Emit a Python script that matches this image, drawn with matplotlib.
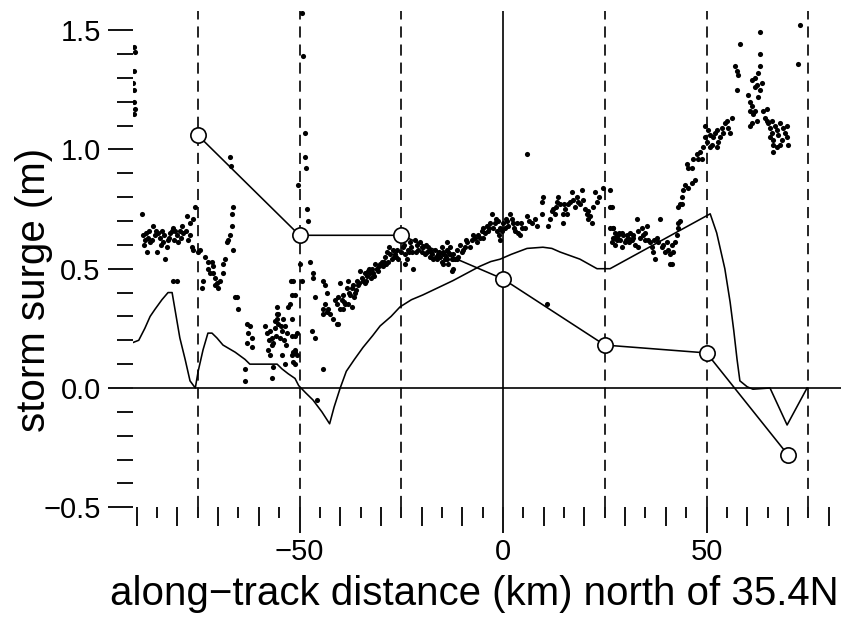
import numpy as np
import matplotlib
matplotlib.use("Agg")
import matplotlib.pyplot as plt

plt.rcParams['font.family'] = ['Liberation Sans', 'DejaVu Sans']
plt.rcParams['lines.scale_dashes'] = False

# ---------------- data ----------------
# station (circle) values
station_km = [-75, -50, -25, 0, 25, 50, 70]
station_m = [1.06, 0.64, 0.64, 0.457, 0.18, 0.147, -0.28]

# model curve
model_km = [-91.0, -89.5, -88.0, -86.7, -85.5, -83.8, -82.3, -81.3, -80.6, -79.4,
            -78.1, -76.9, -75.6, -74.9, -73.7, -72.5, -71.5, -70.3, -68.8, -65.8,
            -63.4, -62.2, -60.2, -57.7, -55.5, -54.3, -52.8, -51.1, -50.2, -48.5,
            -46.7, -44.5, -42.6, -41.5, -40.0, -38.5, -36.5, -34.4, -32.0, -30.2,
            -27.5, -25.3, -22.5, -19.7, -16.0, -12.3, -9.0, -5.7, -3.0, -0.7,
            2.0, 5.9, 9.8, 12.0, 14.0, 18.9, 23.1, 26.3, 50.9, 52.5,
            54.5, 55.8, 56.7, 57.5, 58.2, 60.0, 61.4, 65.6, 69.8, 74.7]
model_m = [0.19, 0.20, 0.25, 0.30, 0.33, 0.37, 0.40, 0.40, 0.33, 0.21,
           0.12, 0.03, 0.0, 0.07, 0.16, 0.23, 0.23, 0.21, 0.18, 0.15,
           0.12, 0.10, 0.10, 0.10, 0.10, 0.08, 0.06, 0.04, 0.01, -0.02,
           -0.05, -0.10, -0.15, -0.08, 0.0, 0.07, 0.12, 0.17, 0.22, 0.26,
           0.30, 0.34, 0.37, 0.39, 0.42, 0.45, 0.48, 0.51, 0.53, 0.54,
           0.56, 0.585, 0.59, 0.585, 0.57, 0.54, 0.50, 0.50, 0.73, 0.65,
           0.50, 0.36, 0.24, 0.12, 0.03, 0.005, -0.005, 0.0, -0.155, 0.0]

# altimeter observations, by stretch of track
obs1_km = [-90.6, -90.4, -90.6, -90.8, -90.6, -90.6, -90.4, -90.6]
obs1_m = [1.43, 1.41, 1.33, 1.28, 1.25, 1.20, 1.17, 1.15]

obs2_km = [-88.7, -88.5, -88.0, -87.5, -87.2, -86.7, -86.0, -85.5, -85.0, -84.8,
           -84.3, -83.8, -83.5, -83.0, -82.6, -82.3, -81.8, -81.3, -81.1, -80.6,
           -80.1, -79.9, -79.4, -78.9, -78.6, -77.6, -77.4, -76.9, -80.1, -76.2,
           -75.7, -76.4, -76.2, -87.8, -86.3, -85.2, -84.0, -82.0, -80.8, -79.0,
           -78.0, -77.0, -88.3, -86.9, -83.2, -81.1]
obs2_m = [0.73, 0.64, 0.62, 0.57, 0.63, 0.61, 0.68, 0.64, 0.57, 0.65,
          0.63, 0.66, 0.61, 0.54, 0.59, 0.62, 0.65, 0.66, 0.67, 0.66,
          0.64, 0.61, 0.66, 0.68, 0.65, 0.72, 0.62, 0.69, 0.45, 0.71,
          0.76, 0.59, 0.58, 0.65, 0.62, 0.66, 0.60, 0.63, 0.62, 0.63,
          0.66, 0.64, 0.60, 0.66, 0.64, 0.45]

obs3_km = [-75.0, -74.4, -73.2, -72.5, -71.5, -71.3, -72.5, -72.0, -71.3, -70.8,
           -70.3, -69.5, -70.0, -70.8, -73.7, -74.0, -68.8, -68.8, -68.3, -67.8,
           -67.6, -67.1, -66.6, -66.3, -66.6, -66.3, -65.8, -65.4, -65.1, -67.1,
           -66.8]
obs3_m = [0.57, 0.58, 0.55, 0.53, 0.53, 0.51, 0.50, 0.48, 0.48, 0.46,
          0.44, 0.45, 0.42, 0.43, 0.45, 0.42, 0.48, 0.52, 0.54, 0.61,
          0.62, 0.64, 0.68, 0.58, 0.73, 0.76, 0.38, 0.38, 0.33, 0.97,
          0.93]

obs4_km = [-62.9, -62.2, -62.7, -61.7, -62.9, -61.7, -63.4, -63.4, -58.5, -58.0,
           -57.2, -56.8, -56.5, -56.0, -55.5, -55.3, -54.8, -54.3, -54.1, -53.6,
           -53.1, -52.8, -55.5, -55.3, -56.8, -57.2, -57.7, -54.3, -53.6, -56.5,
           -56.8, -51.8, -51.6, -51.1, -51.8, -50.6, -51.8, -52.1, -52.3, -51.8,
           -51.1, -50.6, -56.0, -55.5, -57.5, -55.8, -54.6, -53.9, -53.3]
obs4_m = [0.27, 0.26, 0.23, 0.21, 0.19, 0.17, 0.08, 0.03, 0.26, 0.23,
          0.24, 0.21, 0.19, 0.25, 0.29, 0.27, 0.21, 0.24, 0.29, 0.26,
          0.23, 0.34, 0.34, 0.31, 0.18, 0.14, 0.16, 0.14, 0.10, 0.09,
          0.04, 0.14, 0.11, 0.16, 0.22, 0.23, 0.39, 0.45, 0.35, 0.29,
          0.15, 0.14, 0.28, 0.31, 0.20, 0.22, 0.26, 0.20, 0.18]

obs5_km = [-49.4, -49.1, -48.6, -48.6, -48.4, -50.4, -48.2, -47.9, -47.4, -49.9,
           -46.7, -46.7, -51.6, -49.4, -46.2, -44.2, -43.7, -43.2, -51.1, -46.9,
           -46.2, -51.1, -51.6, -51.1, -44.2, -45.7]
obs5_m = [1.57, 1.39, 1.07, 0.97, 0.92, 0.85, 0.75, 0.70, 0.53, 0.52,
          0.48, 0.46, 0.45, 0.45, 0.38, 0.45, 0.43, 0.40, 0.39, 0.24,
          0.21, 0.22, 0.15, 0.10, 0.08, -0.05]

obs6_km = [-43.7, -43.2, -43.0, -44.2, -42.5, -41.8, -40.8, -40.5, -41.3, -40.5,
           -40.0, -39.6, -39.3, -38.8, -38.3, -38.1, -37.6, -37.1, -36.9, -36.4,
           -35.9, -35.6, -35.1, -34.6, -34.4, -33.9, -33.4, -33.2, -32.7, -32.2,
           -31.9, -31.4, -30.9, -30.7, -30.2, -29.7, -29.5, -29.0, -28.5, -28.3,
           -27.8, -27.3, -27.0, -26.5, -26.0, -25.8, -24.6, -24.1, -24.1, -23.6,
           -23.3, -22.8, -22.4, -22.1, -21.6, -21.1, -20.9, -20.4, -19.9, -19.7,
           -19.2, -18.7, -18.4, -17.9, -17.4, -17.2, -16.7, -16.2, -16.0, -15.5,
           -15.0, -14.7, -14.3, -13.8, -13.5, -13.0, -12.5, -12.3, -11.3, -11.1,
           -40.8, -40.0, -39.3, -38.1, -37.1, -44.2, -36.0, -34.0, -32.5, -31.0,
           -28.8, -26.8, -23.0, -20.0, -18.0, -15.8, -39.0, -37.9, -36.7, -35.3,
           -33.7, -32.9, -31.6, -30.4, -29.2, -28.0, -26.2, -25.1, -24.4, -22.6,
           -21.3, -19.0, -17.6, -16.5, -14.0]
obs6_m = [0.35, 0.32, 0.33, 0.31, 0.31, 0.29, 0.27, 0.27, 0.37, 0.38,
          0.44, 0.37, 0.39, 0.35, 0.42, 0.45, 0.39, 0.42, 0.43, 0.40,
          0.45, 0.43, 0.49, 0.46, 0.45, 0.48, 0.47, 0.49, 0.48, 0.50,
          0.48, 0.52, 0.50, 0.49, 0.52, 0.53, 0.51, 0.55, 0.57, 0.53,
          0.56, 0.54, 0.58, 0.56, 0.58, 0.54, 0.59, 0.56, 0.52, 0.54,
          0.58, 0.61, 0.57, 0.50, 0.62, 0.60, 0.58, 0.61, 0.59, 0.59,
          0.56, 0.57, 0.59, 0.55, 0.56, 0.54, 0.58, 0.54, 0.56, 0.55,
          0.53, 0.56, 0.54, 0.58, 0.52, 0.56, 0.49, 0.54, 0.58, 0.55,
          0.35, 0.33, 0.33, 0.35, 0.34, 0.33, 0.41, 0.44, 0.46, 0.50,
          0.52, 0.55, 0.57, 0.57, 0.58, 0.57, 0.36, 0.40, 0.38, 0.44,
          0.45, 0.50, 0.47, 0.51, 0.53, 0.59, 0.55, 0.57, 0.60, 0.59,
          0.57, 0.60, 0.57, 0.55, 0.55]

obs7_km = [-13.8, -13.0, -14.7, -13.8, -12.3, -11.8, -10.6, -10.1, -9.3, -8.8,
           -8.1, -7.6, -7.4, -6.4, -6.1, -5.7, -5.2, -4.4, -3.9, -3.7,
           -3.2, -2.7, -2.5, -2.0, -1.5, -1.2, -0.7, -0.2, 0.0, -0.7,
           0.5, 1.2, 1.7, 2.2, 2.5, 3.4, 3.7, 4.2, 4.7, 5.4,
           5.9, 7.9, 8.4, 9.6, 9.6, 9.8, 11.1, 11.5, 12.0, 12.3,
           12.8, 13.3, 13.5, 14.0, 14.7, 14.7, 15.2, 15.7, 16.0, 16.5,
           17.0, 17.2, 17.7, 18.2, 18.4, 19.4, 19.7, 20.1, 20.6, 20.9,
           21.4, 21.9, 22.1, 22.6, 23.1, 24.6, 26.3, 26.3, 26.3, 27.0,
           27.5, 28.0, 5.9, 10.8, -15.0, -13.5, -12.5, -11.3, -12.3, -14.7,
           -9.8, -4.8, -1.0, 1.0, 3.0, 6.5, 7.2, -9.0, -6.9, -5.0,
           -3.4, -1.8, 0.8, 2.8, 4.4, 13.0, 15.0, 18.8, 21.0, 23.6]
obs7_m = [0.61, 0.59, 0.57, 0.54, 0.56, 0.54, 0.60, 0.57, 0.59, 0.61,
          0.59, 0.62, 0.64, 0.61, 0.64, 0.63, 0.66, 0.65, 0.68, 0.66,
          0.69, 0.73, 0.67, 0.69, 0.66, 0.70, 0.67, 0.66, 0.69, 0.62,
          0.67, 0.68, 0.73, 0.71, 0.69, 0.69, 0.65, 0.64, 0.67, 0.67,
          0.72, 0.71, 0.68, 0.73, 0.78, 0.80, 0.68, 0.71, 0.74, 0.75,
          0.73, 0.78, 0.80, 0.77, 0.69, 0.73, 0.75, 0.73, 0.77, 0.78,
          0.82, 0.79, 0.76, 0.80, 0.78, 0.83, 0.79, 0.75, 0.73, 0.71,
          0.72, 0.69, 0.76, 0.82, 0.78, 0.84, 0.83, 0.76, 0.67, 0.67,
          0.63, 0.62, 0.98, 0.35, 0.59, 0.57, 0.54, 0.54, 0.50, 0.52,
          0.58, 0.63, 0.64, 0.70, 0.66, 0.70, 0.69, 0.62, 0.63, 0.67,
          0.67, 0.71, 0.71, 0.67, 0.69, 0.76, 0.77, 0.77, 0.74, 0.80]

obs8_km = [26.8, 27.0, 27.5, 28.0, 28.3, 28.7, 29.2, 29.5, 30.0, 30.5,
           30.7, 31.2, 31.7, 31.9, 32.4, 32.9, 33.2, 33.7, 34.2, 34.4,
           35.4, 35.6, 36.1, 36.6, 36.9, 37.3, 37.8, 38.1, 38.6, 39.1,
           39.3, 40.3, 40.5, 41.0, 41.5, 41.8, 42.3, 41.0, 42.8, 43.0,
           43.5, 44.0, 27.0, 26.8, 27.5, 29.2, 33.2, 41.5, 28.5, 30.2,
           31.0, 32.0, 34.8, 35.0, 37.0, 39.8]
obs8_m = [0.76, 0.67, 0.65, 0.63, 0.64, 0.62, 0.65, 0.64, 0.61, 0.64,
          0.63, 0.65, 0.62, 0.64, 0.60, 0.71, 0.66, 0.63, 0.67, 0.64,
          0.68, 0.62, 0.61, 0.59, 0.57, 0.54, 0.63, 0.61, 0.71, 0.59,
          0.60, 0.61, 0.58, 0.56, 0.60, 0.57, 0.61, 0.52, 0.64, 0.67,
          0.70, 0.77, 0.63, 0.61, 0.60, 0.59, 0.59, 0.52, 0.65, 0.62,
          0.61, 0.63, 0.62, 0.65, 0.62, 0.57]

obs9_km = [43.5, 44.0, 44.2, 44.7, 45.5, 46.4, 47.2, 45.2, 45.5, 46.4,
           46.7, 47.7, 47.9, 48.4, 48.9, 49.1, 49.6, 50.1, 50.4, 50.9,
           51.4, 51.6, 52.1, 52.6, 52.8, 53.3, 53.8, 54.1, 54.5, 55.0,
           55.3, 55.8, 56.3, 50.9, 52.6, 49.6, 43.0, 43.0]
obs9_m = [0.77, 0.80, 0.83, 0.85, 0.84, 0.86, 0.87, 0.94, 0.92, 0.92,
          0.96, 0.98, 0.96, 0.99, 0.96, 1.01, 1.05, 1.03, 1.08, 1.06,
          1.02, 1.05, 1.07, 1.08, 1.03, 1.05, 1.09, 1.07, 1.11, 1.12,
          1.09, 1.07, 1.13, 1.01, 1.01, 1.10, 0.76, 0.69]

obs10_km = [57.0, 57.5, 57.7, 57.5, 58.2, 60.2, 60.7, 61.2, 60.7, 61.4,
            61.2, 61.9, 62.4, 62.7, 63.1, 61.9, 62.4, 61.9, 62.7, 63.1,
            63.1, 63.1, 63.6, 61.2, 60.7, 63.9, 64.4, 64.9, 64.9, 65.1,
            65.6, 66.1, 66.1, 66.3, 66.3, 66.8, 67.3, 67.3, 66.3, 67.6,
            68.1, 68.6, 68.8, 69.3, 69.8, 69.8, 70.0, 68.1, 65.6, 73.0,
            72.5]
obs10_m = [1.35, 1.33, 1.31, 1.25, 1.44, 1.23, 1.20, 1.18, 1.16, 1.15,
           1.11, 1.16, 1.12, 1.22, 1.25, 1.26, 1.27, 1.30, 1.32, 1.35,
           1.40, 1.49, 1.28, 1.29, 1.10, 1.16, 1.13, 1.17, 1.12, 1.11,
           1.09, 1.12, 1.07, 1.04, 1.02, 1.10, 1.08, 1.01, 0.99, 1.06,
           1.11, 1.04, 1.09, 1.07, 1.10, 1.05, 1.02, 1.02, 1.05, 1.52,
           1.36]

obs_km = obs1_km + obs2_km + obs3_km + obs4_km + obs5_km + obs6_km + obs7_km + obs8_km + obs9_km + obs10_km
obs_m = obs1_m + obs2_m + obs3_m + obs4_m + obs5_m + obs6_m + obs7_m + obs8_m + obs9_m + obs10_m

dashed_km = [-75, -50, -25, 25, 50, 75]
xtick_major = [-50, 0, 50]
xtick_major_labels = ['\u221250', '0', '50']
xtick_mid = [-90, -80, -70, -60, -40, -30, -20, -10, 10, 20, 30, 40, 60, 70, 80]
xtick_short = [-85, -75, -65, -55, -45, -35, -25, -15, -5, 5, 15, 25, 35, 45, 55, 65, 75]
ytick_major = [-0.5, 0.0, 0.5, 1.0, 1.5]
ytick_major_labels = ['\u22120.5', '0.0', '0.5', '1.0', '1.5']
ytick_minor = [-0.4, -0.3, -0.2, -0.1, 0.1, 0.2, 0.3, 0.4, 0.6, 0.7, 0.8, 0.9,
               1.1, 1.2, 1.3, 1.4]

# ---------------- figure ----------------
fig = plt.figure(figsize=(8.41, 6.22), dpi=100)
ax = fig.add_axes([0.1577, 0.1844, 0.8421, 0.7979])
ax.set_xlim(-91, 83)
ax.set_ylim(-0.5, 1.58)
for s in ax.spines.values():
    s.set_visible(False)

ax.axhline(0, color='black', lw=1.2, zorder=2)
ax.axvline(0, color='black', lw=1.2, zorder=2)
for xk in dashed_km:
    ax.axvline(xk, color='black', lw=1.2, dashes=(8, 5), zorder=2)

ax.plot(model_km, model_m, color='black', lw=1.15, zorder=3)
ax.plot(obs_km, obs_m, 'o', color='black', ms=3.7, mec='none', zorder=4)
ax.plot(station_km, station_m, '-', color='black', lw=1.15, zorder=5)
ax.plot(station_km, station_m, 'o', mfc='white', mec='black', mew=1.2, ms=11,
        zorder=6, linestyle='none')

ax.set_xticks(xtick_major)
ax.set_xticklabels(xtick_major_labels)
ax.set_xticks(xtick_mid, minor=True)
ax.set_yticks(ytick_major)
ax.set_yticklabels(ytick_major_labels)
ax.set_yticks(ytick_minor, minor=True)
ax.tick_params(axis='x', which='major', direction='out', length=19, width=1.3,
               labelsize=21, pad=3)
ax.tick_params(axis='x', which='minor', direction='out', length=14, width=1.3)
ax.tick_params(axis='y', which='major', direction='out', length=18, width=1.3,
               labelsize=21, pad=5)
ax.tick_params(axis='y', which='minor', direction='out', length=11.5, width=1.3)

sec = ax.secondary_xaxis('bottom')
sec.set_xticks(xtick_short)
sec.set_xticklabels([''] * len(xtick_short))
sec.tick_params(direction='out', length=8, width=1.3)
for s in sec.spines.values():
    s.set_visible(False)

ax.set_xlabel('along\u2212track distance (km) north of 35.4N', fontsize=29)
ax.xaxis.set_label_coords(0.482, -0.136)
ax.set_ylabel('storm surge (m)', fontsize=29)
ax.yaxis.set_label_coords(-0.112, 0.438)

fig.savefig('out.png', dpi=100)
